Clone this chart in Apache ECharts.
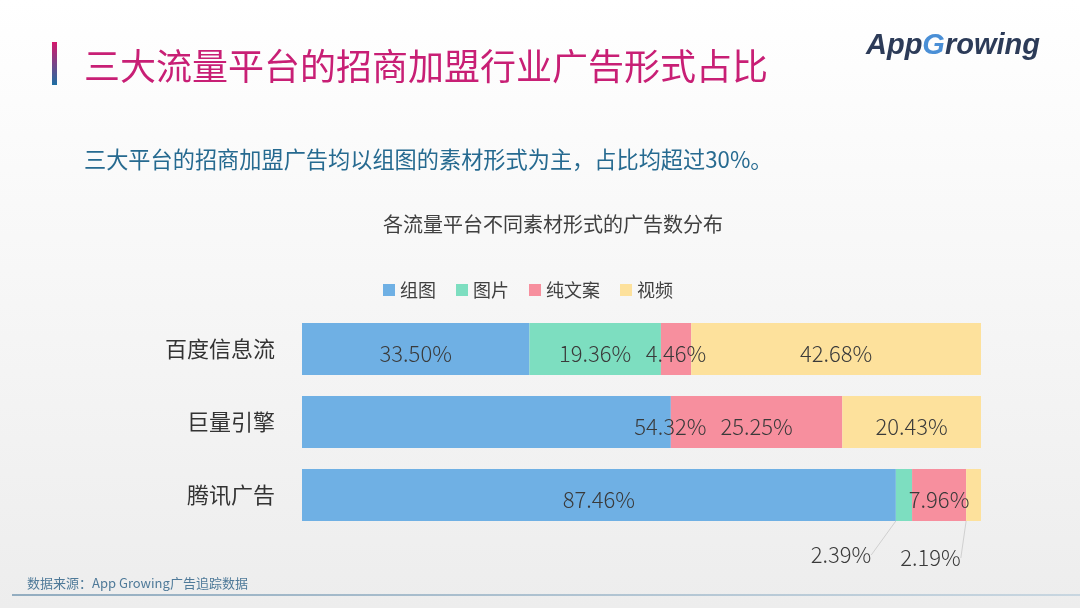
<!DOCTYPE html>
<html><head><meta charset="utf-8">
<script src="https://cdn.jsdelivr.net/npm/echarts@6/dist/echarts.min.js"></script>
<style>html,body{margin:0;padding:0;}#c{width:1080px;height:608px;}</style>
</head><body><div id="c"></div>
<script>
const categories = ['百度信息流', '巨量引擎', '腾讯广告'];
const seriesNames = ['组图', '图片', '纯文案', '视频'];
const zutu = [33.50, 54.32, 87.46];
const tupian = [19.36, 0, 2.39];
const wenan = [4.46, 25.25, 7.96];
const shipin = [42.68, 20.43, 2.19];
const colors = ['#6fb0e4', '#7ddec0', '#f78f9e', '#fde19c'];

const FONT = 'Noto Sans CJK SC';
const chart = echarts.init(document.getElementById('c'));

function labelCfg() {
  return {
    show: true, position: 'inside', fontSize: 22, fontWeight: 300, color: '#3a3a3a', fontFamily: FONT,
    formatter: p => p.value > 0 ? p.value.toFixed(2) + '%' : ''
  };
}

// per-series label displacement (series index -> data index -> [dx, dy])
const moves = { 0: { 1: [184, 5] }, 1: { 2: [-63, 60] }, 3: { 2: [-43, 63] } };

const allData = [zutu, tupian, wenan, shipin];
const series = allData.map((d, i) => {
  const s = {
    name: seriesNames[i], type: 'bar', stack: 'total', data: d,
    barWidth: 52, itemStyle: { color: colors[i] },
    label: labelCfg(),
    emphasis: { disabled: true },
    labelLayout: p => {
      const m = moves[i] && moves[i][p.dataIndex];
      return m ? { dx: m[0], dy: m[1] } : { dy: 5 };
    }
  };
  if (i === 1 || i === 3) {
    s.labelLine = { show: true, lineStyle: { color: '#d0d0d0', width: 1 } };
  }
  return s;
});

chart.setOption({
  animation: false,
  textStyle: { fontFamily: FONT },
  graphic: [
    { type: 'rect', z: -10, shape: { x: 0, y: 0, width: 1080, height: 608 },
      style: { fill: new echarts.graphic.LinearGradient(0, 0, 0, 1, [
        { offset: 0, color: '#ffffff' }, { offset: 1, color: '#ededed' }]) } },
    { type: 'rect', shape: { x: 52, y: 42, width: 5, height: 43 },
      style: { fill: new echarts.graphic.LinearGradient(0, 0, 0, 1, [
        { offset: 0, color: '#d5186c' }, { offset: 1, color: '#1d6fa3' }]) } },
    { type: 'text', x: 84, y: 66, style: { text: '三大流量平台的招商加盟行业广告形式占比',
      fontSize: 36, fill: '#c81f75', fontFamily: FONT, verticalAlign: 'middle' } },
    { type: 'text', x: 84, y: 160, style: { text: '三大平台的招商加盟广告均以组图的素材形式为主，占比均超过30%。',
      fontSize: 22.2, fill: '#266a90', fontFamily: FONT, verticalAlign: 'middle' } },
    { type: 'text', x: 866, y: 46, style: {
      text: '{a|App}{b|G}{a|rowing}', verticalAlign: 'middle',
      rich: {
        a: { fontSize: 29, fill: '#2c3b58', fontFamily: 'Liberation Sans', fontStyle: 'italic', fontWeight: 'bold' },
        b: { fontSize: 29, fill: '#4a8fd6', fontFamily: 'Liberation Sans', fontStyle: 'italic', fontWeight: 'bold' }
      } } },
    { type: 'text', x: 553, y: 224, style: { text: '各流量平台不同素材形式的广告数分布',
      fontSize: 20, fill: '#404040', fontFamily: FONT, align: 'center', verticalAlign: 'middle' } },
    { type: 'text', x: 27, y: 583, style: { text: '数据来源：App Growing广告追踪数据',
      fontSize: 13, fill: '#4f7a99', fontFamily: FONT, verticalAlign: 'middle' } },
    { type: 'rect', shape: { x: 12, y: 594, width: 1068, height: 2 },
      style: { fill: new echarts.graphic.LinearGradient(0, 0, 1, 0, [
        { offset: 0, color: '#93adc0' }, { offset: 1, color: '#c8d6e0' }]) } }
  ],
  legend: {
    data: seriesNames, left: 378, top: 276, itemWidth: 12, itemHeight: 12, itemGap: 20,
    icon: 'rect',
    textStyle: { fontSize: 18, color: '#404040', fontFamily: FONT }
  },
  grid: { left: 302, right: 99, top: 312.5, bottom: 76.5, containLabel: false },
  xAxis: { type: 'value', min: 0, max: 100, show: false },
  yAxis: {
    type: 'category', data: categories, inverse: true,
    axisLine: { show: false }, axisTick: { show: false },
    axisLabel: { fontSize: 22, color: '#333333', margin: 27, fontFamily: FONT }
  },
  series: series
});
</script></body></html>
